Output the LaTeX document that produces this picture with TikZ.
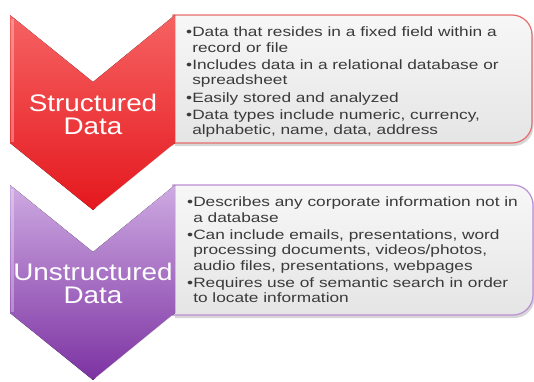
\documentclass[tikz,border=0pt]{standalone}
\usepackage{fontspec}
\newfontfamily\chevfont[FakeStretch=1.16]{Liberation Sans}
\newfontfamily\listfont[FakeStretch=1.28]{Liberation Sans}
\usetikzlibrary{positioning}
\definecolor{redtop}{RGB}{246,98,98}
\definecolor{redmid}{RGB}{252,58,58}
\definecolor{redbot}{RGB}{228,24,30}
\definecolor{redline}{RGB}{232,108,108}
\definecolor{purptop}{RGB}{206,170,226}
\definecolor{purpmid}{RGB}{170,112,200}
\definecolor{purpbot}{RGB}{124,50,162}
\definecolor{purpline}{RGB}{186,142,212}
\definecolor{boxtop}{RGB}{247,247,247}
\definecolor{boxbot}{RGB}{229,229,229}
\definecolor{textgray}{RGB}{58,58,58}
% indent for wrapped bullet lines
\newcommand{\wrapin}{\phantom{\textbullet}}

\begin{document}
\begin{tikzpicture}[x=1pt,y=-1pt,
    chevtext/.style={align=center,text=white,inner sep=0pt,
      font=\chevfont\fontsize{24pt}{23pt}\selectfont},
    listtext/.style={anchor=north west,align=left,inner sep=0pt,text=textgray,
      font=\listfont\fontsize{13.5pt}{15.3pt}\selectfont},
    boxshadow/.style={fill=black,opacity=.16}]
  \useasboundingbox (0,0) rectangle (534,381);
  % structured data
  \begin{scope}
    \path[boxshadow] (175,146) -- (175,18) [rounded corners=20pt] -- (533.5,18) -- (533.5,146) [sharp corners] -- cycle;
    \draw[redline,line width=1.2pt,top color=boxtop,bottom color=boxbot]
      (173,143) -- (173,15) [rounded corners=20pt] -- (532,15) -- (532,143) [sharp corners] -- cycle;
    \fill[top color=redtop,middle color=redmid,bottom color=redbot]
      (10,15) -- (93,82) -- (175,15) -- (175,143) -- (93,210) -- (10,143) -- cycle;
    \draw[white,opacity=.3,line width=3pt] (12.5,19) -- (12.5,142);
    \draw[white,opacity=.7,line width=1.1pt] (172,146) -- (96,208);
    \node[chevtext] (sHead) at (93,114) {Structured\\Data};
    \node[listtext] (sList) at (186,27) {%
      \textbullet Data that resides in a fixed field within a\\
      \wrapin record or file\\[2pt]
      \textbullet Includes data in a relational database or\\
      \wrapin spreadsheet\\[2pt]
      \textbullet Easily stored and analyzed\\[2pt]
      \textbullet Data types include numeric, currency,\\
      \wrapin alphabetic, name, data, address};
  \end{scope}
  % unstructured data
  \begin{scope}
    \path[boxshadow] (175,318) -- (175,188) [rounded corners=20pt] -- (534.5,188) -- (534.5,318) [sharp corners] -- cycle;
    \draw[purpline,line width=1.2pt,top color=boxtop,bottom color=boxbot]
      (173,315) -- (173,185) [rounded corners=20pt] -- (533,185) -- (533,315) [sharp corners] -- cycle;
    \fill[top color=purptop,middle color=purpmid,bottom color=purpbot]
      (10,185) -- (93,252) -- (175,185) -- (175,313) -- (93,380) -- (10,313) -- cycle;
    \draw[white,opacity=.3,line width=3pt] (12.5,189) -- (12.5,312);
    \draw[white,opacity=.7,line width=1.1pt] (172,316) -- (96,378);
    \node[chevtext] (uHead) at (93,283) {Unstructured\\Data};
    \node[listtext] (uList) at (187,197) {%
      \textbullet Describes any corporate information not in\\
      \wrapin a database\\[2pt]
      \textbullet Can include emails, presentations, word\\
      \wrapin processing documents, videos/photos,\\
      \wrapin audio files, presentations, webpages\\[2pt]
      \textbullet Requires use of semantic search in order\\
      \wrapin to locate information};
  \end{scope}
\end{tikzpicture}
\end{document}
